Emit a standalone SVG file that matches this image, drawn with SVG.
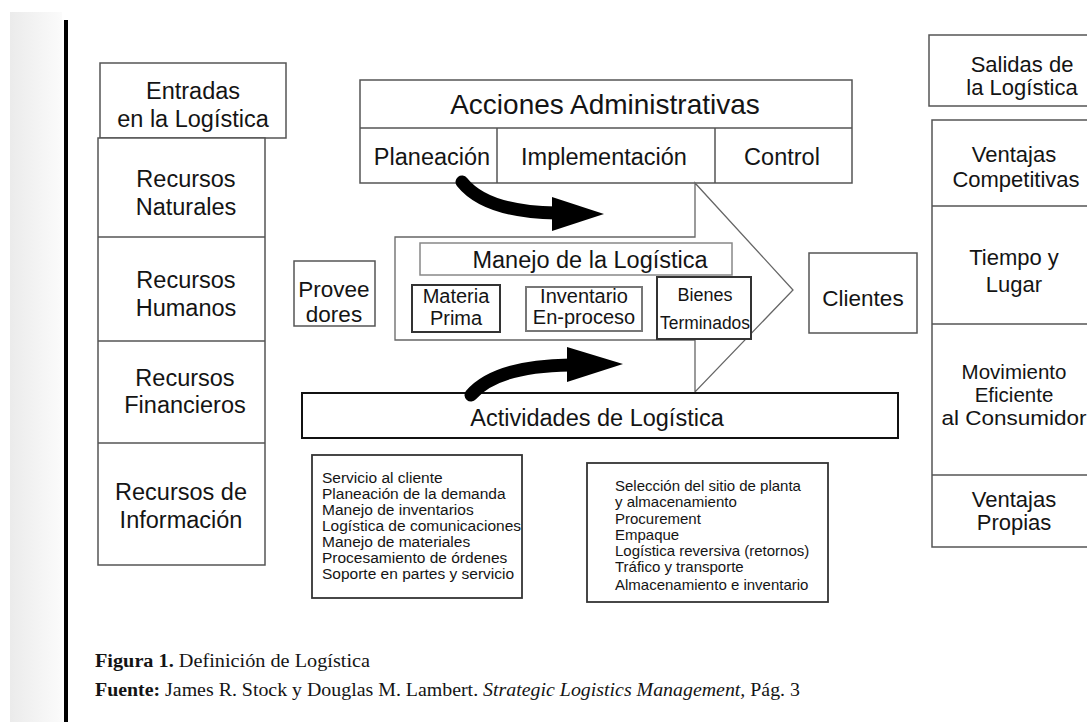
<svg xmlns="http://www.w3.org/2000/svg" width="1087" height="722" viewBox="0 0 1087 722">
<defs>
<linearGradient id="strip" x1="0" y1="0" x2="1" y2="0">
<stop offset="0" stop-color="#ebebeb"/>
<stop offset="1" stop-color="#fbfbfb"/>
</linearGradient>
</defs>
<style>
.box{fill:#fff;stroke:#555;stroke-width:1.5}
.thin{fill:none;stroke:#555;stroke-width:1.5}
.t{font-family:"Liberation Sans",Arial,sans-serif;fill:#141414;text-anchor:middle}
.l{font-family:"Liberation Sans",Arial,sans-serif;fill:#141414}
.cap{font-family:"Liberation Serif","Times New Roman",serif;fill:#141414;font-size:18.5px}
.curve{fill:none;stroke:#000;stroke-width:13;stroke-linecap:round}
</style>
<rect x="0" y="0" width="1087" height="722" fill="#fff"/>
<rect x="10" y="12" width="52" height="710" fill="url(#strip)"/>
<rect x="64" y="20" width="4" height="702" fill="#000"/>

<g id="entradas">
<rect class="box" x="100" y="63" width="186" height="75"/>
<text class="t" x="193" y="99" font-size="23.5">Entradas</text>
<text class="t" x="193" y="127" font-size="23.5">en la Logística</text>
</g>
<g id="recursos">
<rect class="box" x="98" y="138" width="167" height="427"/>
<line class="thin" x1="98" y1="237" x2="265" y2="237"/>
<line class="thin" x1="98" y1="341" x2="265" y2="341"/>
<line class="thin" x1="98" y1="443" x2="265" y2="443"/>
<text class="t" x="186" y="187" font-size="23.5">Recursos</text>
<text class="t" x="186" y="215" font-size="23.5">Naturales</text>
<text class="t" x="186" y="288" font-size="23.5">Recursos</text>
<text class="t" x="186" y="316" font-size="23.5">Humanos</text>
<text class="t" x="185" y="386" font-size="23.5">Recursos</text>
<text class="t" x="185" y="413" font-size="23.5">Financieros</text>
<text class="t" x="181" y="500" font-size="23.5">Recursos de</text>
<text class="t" x="181" y="528" font-size="23.5">Información</text>
</g>

<g id="salidas">
<rect class="box" x="929" y="35" width="170" height="71"/>
<text class="t" x="1022" y="72" font-size="22">Salidas de</text>
<text class="t" x="1022" y="95" font-size="22">la Logística</text>
</g>
<g id="ventajas">
<rect class="box" x="932" y="120" width="170" height="427"/>
<line class="thin" x1="932" y1="206" x2="1100" y2="206"/>
<line class="thin" x1="932" y1="324" x2="1100" y2="324"/>
<line class="thin" x1="932" y1="475" x2="1100" y2="475"/>
<text class="t" x="1014" y="162" font-size="22">Ventajas</text>
<text class="t" x="1016" y="187" font-size="22">Competitivas</text>
<text class="t" x="1014" y="265" font-size="22">Tiempo y</text>
<text class="t" x="1014" y="292" font-size="22">Lugar</text>
<text class="t" x="1014" y="379" font-size="20.5">Movimiento</text>
<text class="t" x="1014" y="402" font-size="20.5">Eficiente</text>
<text class="t" x="1014" y="425" font-size="20.5" textLength="145" lengthAdjust="spacingAndGlyphs">al Consumidor</text>
<text class="t" x="1014" y="507" font-size="22">Ventajas</text>
<text class="t" x="1014" y="530" font-size="22">Propias</text>
</g>

<g id="acciones">
<rect class="box" x="360" y="80" width="492" height="103"/>
<line class="thin" x1="360" y1="128" x2="852" y2="128"/>
<line class="thin" x1="497" y1="128" x2="497" y2="183"/>
<line class="thin" x1="715" y1="128" x2="715" y2="183"/>
<text class="t" x="605" y="114" font-size="28">Acciones Administrativas</text>
<text class="t" x="432" y="165" font-size="23.5">Planeación</text>
<text class="t" x="604" y="165" font-size="23.5">Implementación</text>
<text class="t" x="782" y="165" font-size="23.5">Control</text>
</g>

<g id="flecha-logistica">
<polygon points="395,237 695,237 695,183 793,290 695,392 695,340 395,340" fill="#fff" stroke="#666" stroke-width="1.3"/>
</g>
<g id="manejo">
<rect x="420" y="243" width="312" height="32" fill="#fff" stroke="#888" stroke-width="1.5"/>
<text class="t" x="590" y="268" font-size="23.5">Manejo de la Logística</text>
</g>
<g id="materia">
<rect x="412" y="285" width="88" height="47" fill="#fff" stroke="#333" stroke-width="2"/>
<text class="t" x="456" y="303" font-size="20">Materia</text>
<text class="t" x="456" y="325" font-size="20">Prima</text>
</g>
<g id="inventario">
<rect x="526" y="287" width="116" height="44" fill="#fff" stroke="#777" stroke-width="2"/>
<text class="t" x="584" y="303" font-size="20">Inventario</text>
<text class="t" x="584" y="324" font-size="20">En-proceso</text>
</g>
<g id="bienes">
<rect x="657" y="277" width="94" height="62" fill="#fff" stroke="#333" stroke-width="2"/>
<text class="t" x="705" y="301" font-size="18">Bienes</text>
<text class="t" x="705" y="329" font-size="18" textLength="90" lengthAdjust="spacingAndGlyphs">Terminados</text>
</g>
<g id="proveedores">
<rect class="box" x="294" y="261" width="81" height="65"/>
<text class="t" x="334" y="297" font-size="22.5">Provee</text>
<text class="t" x="334" y="322" font-size="22.5">dores</text>
</g>
<g id="clientes">
<rect class="box" x="809" y="253" width="108" height="80"/>
<text class="t" x="863" y="306" font-size="22.5">Clientes</text>
</g>
<g id="actividades">
<rect x="302" y="393" width="596" height="45" fill="#fff" stroke="#111" stroke-width="2"/>
<text class="t" x="597" y="426" font-size="23.5">Actividades de Logística</text>
</g>

<g id="connectors">
<path class="curve" d="M462,182 Q486,212 556,213"/>
<polygon points="552,197 604,214 552,231" fill="#000"/>
<path class="curve" d="M471,395 Q496,366 570,365"/>
<polygon points="567,347 623,364 567,382" fill="#000"/>
</g>

<g id="lista-1">
<rect x="312" y="455" width="210" height="143" fill="#fff" stroke="#333" stroke-width="1.8"/>
<g class="l" font-size="15.5">
<text x="322" y="483">Servicio al cliente</text>
<text x="322" y="499">Planeación de la demanda</text>
<text x="322" y="515">Manejo de inventarios</text>
<text x="322" y="531">Logística de comunicaciones</text>
<text x="322" y="547">Manejo de materiales</text>
<text x="322" y="563">Procesamiento de órdenes</text>
<text x="322" y="579">Soporte en partes y servicio</text>
</g>
</g>
<g id="lista-2">
<rect x="587" y="463" width="241" height="139" fill="#fff" stroke="#333" stroke-width="1.8"/>
<g class="l" font-size="15">
<text x="615" y="491">Selección del sitio de planta</text>
<text x="615" y="507">y almacenamiento</text>
<text x="615" y="524">Procurement</text>
<text x="615" y="540">Empaque</text>
<text x="615" y="556">Logística reversiva (retornos)</text>
<text x="615" y="572">Tráfico y transporte</text>
<text x="615" y="590">Almacenamiento e inventario</text>
</g>
</g>

<g id="caption">
<text class="cap" x="95" y="667" textLength="275" lengthAdjust="spacingAndGlyphs"><tspan font-weight="bold">Figura 1.</tspan> Definición de Logística</text>
<text class="cap" x="95" y="696" textLength="705" lengthAdjust="spacingAndGlyphs"><tspan font-weight="bold">Fuente:</tspan> James R. Stock y Douglas M. Lambert. <tspan font-style="italic">Strategic Logistics Management,</tspan> Pág. 3</text>
</g>
</svg>
